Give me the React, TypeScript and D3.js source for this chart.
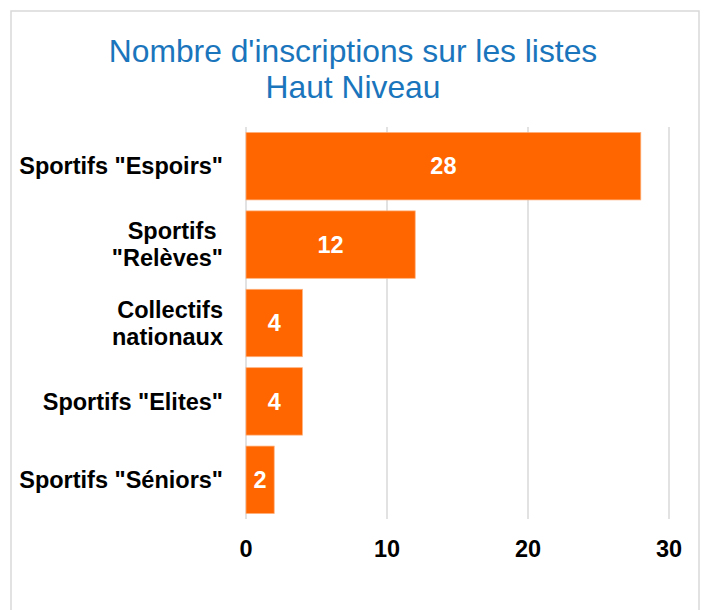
import React, { useEffect, useRef } from 'react';
import * as d3 from 'd3';

// Data
const categories = ['Sportifs "Espoirs"', 'Sportifs "Relèves"', 'Collectifs nationaux', 'Sportifs "Elites"', 'Sportifs "Séniors"'];
const labelLines = [['Sportifs "Espoirs"'], ['Sportifs ', '"Relèves"'], ['Collectifs', 'nationaux'], ['Sportifs "Elites"'], ['Sportifs "Séniors"']];
const values = [28, 12, 4, 4, 2];
const xTicks = [0, 10, 20, 30];
const titleLines = ["Nombre d'inscriptions sur les listes", 'Haut Niveau'];

const FONT = '"Liberation Sans", Arial, sans-serif';

export default function App() {
  const svgRef = useRef<SVGSVGElement>(null);

  useEffect(() => {
    if (!svgRef.current) return;
    const svg = d3.select(svgRef.current);
    svg.selectAll('*').remove();

    const W = 708;
    const H = 610;
    const plot = { left: 246, right: 669, top: 127, bottom: 519 };

    // Chart frame
    svg.append('rect')
      .attr('x', 11).attr('y', 11)
      .attr('width', 688).attr('height', H + 20)
      .attr('fill', '#fff')
      .attr('stroke', '#D9D9D9')
      .attr('stroke-width', 1.5);

    // Title
    svg.append('text')
      .attr('x', 354)
      .attr('text-anchor', 'middle')
      .attr('fill', '#1A75BC')
      .style('font-family', FONT)
      .style('font-size', '31.8px')
      .selectAll('tspan')
      .data(titleLines)
      .join('tspan')
      .attr('x', 353)
      .attr('y', (_, i) => 62 + i * 36)
      .text(d => d);

    // Scales
    const x = d3.scaleLinear().domain([0, 30]).range([plot.left, plot.right]);
    const y = d3.scaleBand<string>()
      .domain(categories)
      .range([plot.top, plot.bottom])
      .paddingInner(0.14)
      .paddingOuter(0.07);

    // Gridlines (incl. axis at 0)
    svg.append('g')
      .selectAll('line')
      .data(xTicks)
      .join('line')
      .attr('x1', d => x(d)).attr('x2', d => x(d))
      .attr('y1', plot.top).attr('y2', plot.bottom)
      .attr('stroke', '#D9D9D9')
      .attr('stroke-width', 1.5);

    // Bars
    svg.append('g')
      .selectAll('rect')
      .data(values)
      .join('rect')
      .attr('x', x(0))
      .attr('y', (_, i) => y(categories[i]) as number)
      .attr('width', d => x(d) - x(0))
      .attr('height', y.bandwidth())
      .attr('fill', '#FF6600')
      .attr('stroke', '#FFB07A')
      .attr('stroke-width', 0.75);

    // Value labels
    svg.append('g')
      .selectAll('text')
      .data(values)
      .join('text')
      .attr('x', d => (x(0) + x(d)) / 2)
      .attr('y', (_, i) => (y(categories[i]) as number) + y.bandwidth() / 2)
      .attr('dy', '0.35em')
      .attr('text-anchor', 'middle')
      .attr('fill', '#fff')
      .style('font-family', FONT)
      .style('font-weight', 'bold')
      .style('font-size', '23.5px')
      .text(d => d);

    // Category labels
    const catG = svg.append('g')
      .style('font-family', FONT)
      .style('font-weight', 'bold')
      .style('font-size', '23.5px')
      .attr('fill', '#000');
    categories.forEach((c, i) => {
      const lines = labelLines[i];
      const cy = (y(c) as number) + y.bandwidth() / 2;
      const lh = 27;
      const t = catG.append('text')
        .attr('text-anchor', 'end')
        .style('white-space', 'pre');
      lines.forEach((ln, j) => {
        t.append('tspan')
          .attr('x', 223)
          .attr('y', cy + (j - (lines.length - 1) / 2) * lh)
          .attr('dy', '0.35em')
          .text(ln);
      });
    });

    // X axis tick labels
    svg.append('g')
      .selectAll('text')
      .data(xTicks)
      .join('text')
      .attr('x', d => x(d))
      .attr('y', 557)
      .attr('text-anchor', 'middle')
      .attr('fill', '#000')
      .style('font-family', FONT)
      .style('font-weight', 'bold')
      .style('font-size', '23.5px')
      .text(d => d);

    svg.attr('width', W).attr('height', H);
  }, []);

  return (
    <svg
      ref={svgRef}
      width={708}
      height={610}
      style={{ position: 'absolute', left: 0, top: 0, background: '#fff' }}
    />
  );
}
